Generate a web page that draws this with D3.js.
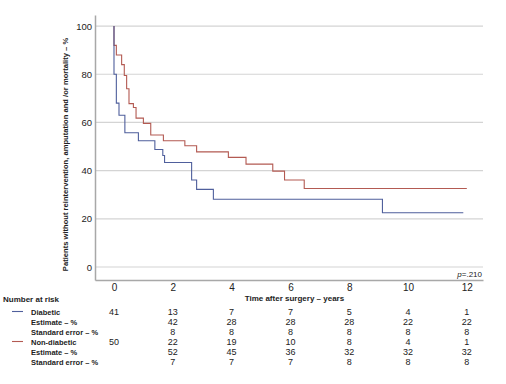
<!DOCTYPE html>
<html>
<head>
<meta charset="utf-8">
<script src="https://cdn.jsdelivr.net/npm/d3@7"></script>
<style>
  body { margin: 0; background: #fff; }
  svg { display: block; font-family: "Liberation Sans", Arial, sans-serif; }
</style>
</head>
<body>
<div id="chart"></div>
<script>
// Kaplan-Meier step data (years, survival %)
const diabeticTimes = [0, 0, 0.08, 0.17, 0.37, 0.83, 1.39, 1.66, 1.72, 2.64, 2.81, 3.38, 9.13, 11.88];
const diabeticSurv  = [100, 80, 68, 63, 55.7, 52.4, 48.8, 46.3, 43.4, 36.1, 32.2, 28.1, 22.5, 22.5];

const nonDiabeticTimes = [0, 0, 0.08, 0.26, 0.35, 0.43, 0.51, 0.66, 0.75, 1.0, 1.25, 1.68, 2.41, 2.81, 3.89, 4.49, 5.4, 5.8, 6.47, 12.0];
const nonDiabeticSurv  = [100, 92, 88, 84, 79.5, 74, 67.8, 66.2, 61.8, 59.6, 54.8, 52.4, 50.3, 47.8, 45.5, 42.7, 39.8, 36.1, 32.6, 32.6];

const xTicks = [0, 2, 4, 6, 8, 10, 12];
const yTicks = [0, 20, 40, 60, 80, 100];

// Number-at-risk table
const tableLabels = ["Diabetic", "Estimate \u2013 %", "Standard error \u2013 %", "Non-diabetic", "Estimate \u2013 %", "Standard error \u2013 %"];
const diabeticAtRisk    = [41, 13, 7, 7, 5, 4, 1];
const diabeticEstimate  = ["", 42, 28, 28, 28, 22, 22];
const diabeticSE        = ["", 8, 8, 8, 8, 8, 8];
const nonDiabeticAtRisk = [50, 22, 19, 10, 8, 4, 1];
const nonDiabeticEstimate = ["", 52, 45, 36, 32, 32, 32];
const nonDiabeticSE       = ["", 7, 7, 7, 8, 8, 8];

const blue = "#4f5f9c", red = "#b35a52";

const width = 506, height = 384;
const margin = { top: 15, right: 23, bottom: 104, left: 95 };

const svg = d3.select("#chart").append("svg")
  .attr("width", width)
  .attr("height", height);

svg.append("rect").attr("width", width).attr("height", height).attr("fill", "#fff");

const x = d3.scaleLinear()
  .domain([-0.646, 12.55])
  .range([margin.left, width - margin.right]);

const y = d3.scaleLinear()
  .domain([-5.4, 104.6])
  .range([height - margin.bottom, margin.top]);

// Gridlines
svg.append("g")
  .selectAll("line")
  .data(yTicks)
  .join("line")
  .attr("x1", margin.left)
  .attr("x2", width - margin.right)
  .attr("y1", d => y(d))
  .attr("y2", d => y(d))
  .attr("stroke", "#d4d4d4")
  .attr("stroke-width", 1.2);

// Axes
const yAxis = svg.append("g")
  .attr("transform", `translate(${margin.left},0)`)
  .call(d3.axisLeft(y).tickValues(yTicks).tickSize(0).tickPadding(3));
yAxis.select(".domain").attr("stroke", "#a8a8a8").attr("stroke-width", 1.5);
yAxis.selectAll("text").style("font-size", "9.5px").attr("fill", "#222");

const xAxis = svg.append("g")
  .attr("transform", `translate(0,${height - margin.bottom})`)
  .call(d3.axisBottom(x).tickValues(xTicks).tickSize(0).tickPadding(4));
xAxis.select(".domain").attr("stroke", "#a8a8a8").attr("stroke-width", 1.5);
xAxis.selectAll("text").style("font-size", "10px").attr("fill", "#222");

// Axis titles
svg.append("text")
  .attr("transform", `translate(68,${(y(104.6) + y(-5.4)) / 2 + 7}) rotate(-90)`)
  .attr("text-anchor", "middle")
  .style("font-size", "7.6px")
  .style("font-weight", "bold")
  .attr("fill", "#222")
  .text("Patients without reintervention, amputation and /or mortality \u2013 %");

svg.append("text")
  .attr("x", x(6) + 4)
  .attr("y", 301)
  .attr("text-anchor", "middle")
  .style("font-size", "8px")
  .style("font-weight", "bold")
  .attr("fill", "#222")
  .text("Time after surgery \u2013 years");

// Curves
const line = d3.line()
  .x(d => x(d[0]))
  .y(d => y(d[1]))
  .curve(d3.curveStepAfter);

svg.append("path")
  .datum(d3.zip(nonDiabeticTimes, nonDiabeticSurv))
  .attr("d", line)
  .attr("fill", "none")
  .attr("stroke", red)
  .attr("stroke-width", 1.1);

svg.append("path")
  .datum(d3.zip(diabeticTimes, diabeticSurv))
  .attr("d", line)
  .attr("fill", "none")
  .attr("stroke", blue)
  .attr("stroke-width", 1.1);

// p value
const pText = svg.append("text")
  .attr("x", 482)
  .attr("y", 277)
  .attr("text-anchor", "end")
  .style("font-size", "8px")
  .attr("fill", "#222");
pText.append("tspan").style("font-style", "italic").text("p");
pText.append("tspan").text("=.210");

// Number at risk table
svg.append("text")
  .attr("x", 3)
  .attr("y", 302)
  .style("font-size", "8px")
  .style("font-weight", "bold")
  .attr("fill", "#222")
  .text("Number at risk");

const rows = [diabeticAtRisk, diabeticEstimate, diabeticSE, nonDiabeticAtRisk, nonDiabeticEstimate, nonDiabeticSE];
const rowY = i => 314.5 + i * 10;

const table = svg.append("g");

table.selectAll("text.label")
  .data(tableLabels)
  .join("text")
  .attr("class", "label")
  .attr("x", 31)
  .attr("y", (d, i) => rowY(i))
  .style("font-size", "7.5px")
  .style("font-weight", "bold")
  .attr("fill", "#222")
  .text(d => d);

table.selectAll("line.key")
  .data([[0, blue], [3, red]])
  .join("line")
  .attr("class", "key")
  .attr("x1", 12).attr("x2", 23)
  .attr("y1", d => rowY(d[0]) - 3)
  .attr("y2", d => rowY(d[0]) - 3)
  .attr("stroke", d => d[1])
  .attr("stroke-width", 1.1);

rows.forEach((vals, i) => {
  table.selectAll(`text.r${i}`)
    .data(vals)
    .join("text")
    .attr("class", `r${i}`)
    .attr("x", (d, j) => x(xTicks[j]))
    .attr("y", rowY(i))
    .attr("text-anchor", "middle")
    .style("font-size", "9px")
    .attr("fill", "#222")
    .text(d => d);
});
</script>
</body>
</html>
